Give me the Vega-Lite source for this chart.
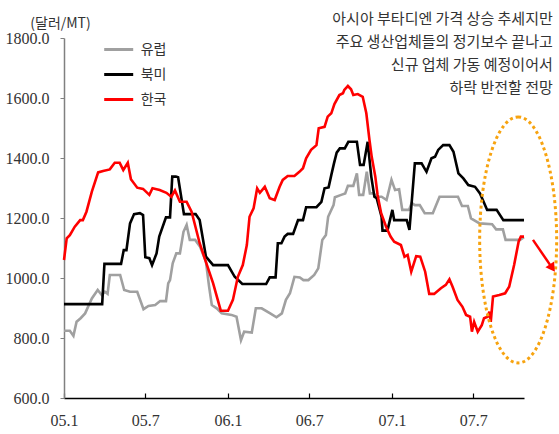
{
  "$schema": "https://vega.github.io/schema/vega-lite/v6.json",
  "width": 460,
  "height": 360,
  "autosize": {"type": "none"},
  "padding": {"left": 64, "top": 38, "right": 35, "bottom": 36},
  "background": "white",
  "config": {
    "view": {"stroke": null},
    "axis": {"labelFont": "Liberation Sans Narrow", "labelFontSize": 16, "labelColor": "#333333", "grid": false}
  },
  "datasets": {
    "prices": [
      {"date": "2005-01-01", "series": "유럽", "price": 824},
      {"date": "2005-01-14", "series": "유럽", "price": 824},
      {"date": "2005-01-22", "series": "유럽", "price": 807},
      {"date": "2005-01-29", "series": "유럽", "price": 854},
      {"date": "2005-02-07", "series": "유럽", "price": 866},
      {"date": "2005-02-17", "series": "유럽", "price": 882},
      {"date": "2005-03-04", "series": "유럽", "price": 932},
      {"date": "2005-03-17", "series": "유럽", "price": 960},
      {"date": "2005-03-26", "series": "유럽", "price": 943},
      {"date": "2005-04-02", "series": "유럽", "price": 954},
      {"date": "2005-04-08", "series": "유럽", "price": 947},
      {"date": "2005-04-13", "series": "유럽", "price": 1010},
      {"date": "2005-05-06", "series": "유럽", "price": 1010},
      {"date": "2005-05-15", "series": "유럽", "price": 960},
      {"date": "2005-05-28", "series": "유럽", "price": 954},
      {"date": "2005-06-13", "series": "유럽", "price": 954},
      {"date": "2005-06-27", "series": "유럽", "price": 896},
      {"date": "2005-07-08", "series": "유럽", "price": 907},
      {"date": "2005-07-23", "series": "유럽", "price": 910},
      {"date": "2005-08-03", "series": "유럽", "price": 923},
      {"date": "2005-08-16", "series": "유럽", "price": 923},
      {"date": "2005-08-21", "series": "유럽", "price": 982},
      {"date": "2005-08-25", "series": "유럽", "price": 993},
      {"date": "2005-08-31", "series": "유럽", "price": 1049},
      {"date": "2005-09-08", "series": "유럽", "price": 1082},
      {"date": "2005-09-16", "series": "유럽", "price": 1082},
      {"date": "2005-09-24", "series": "유럽", "price": 1154},
      {"date": "2005-10-01", "series": "유럽", "price": 1177},
      {"date": "2005-10-08", "series": "유럽", "price": 1127},
      {"date": "2005-10-20", "series": "유럽", "price": 1127},
      {"date": "2005-10-31", "series": "유럽", "price": 1104},
      {"date": "2005-11-13", "series": "유럽", "price": 1054},
      {"date": "2005-11-20", "series": "유럽", "price": 971},
      {"date": "2005-11-26", "series": "유럽", "price": 910},
      {"date": "2005-12-07", "series": "유럽", "price": 899},
      {"date": "2005-12-18", "series": "유럽", "price": 882},
      {"date": "2006-01-09", "series": "유럽", "price": 877},
      {"date": "2006-01-20", "series": "유럽", "price": 871},
      {"date": "2006-01-30", "series": "유럽", "price": 793},
      {"date": "2006-02-06", "series": "유럽", "price": 821},
      {"date": "2006-02-23", "series": "유럽", "price": 818},
      {"date": "2006-03-04", "series": "유럽", "price": 899},
      {"date": "2006-03-17", "series": "유럽", "price": 899},
      {"date": "2006-04-05", "series": "유럽", "price": 882},
      {"date": "2006-04-19", "series": "유럽", "price": 869},
      {"date": "2006-05-01", "series": "유럽", "price": 882},
      {"date": "2006-05-10", "series": "유럽", "price": 927},
      {"date": "2006-05-19", "series": "유럽", "price": 949},
      {"date": "2006-05-29", "series": "유럽", "price": 1004},
      {"date": "2006-06-10", "series": "유럽", "price": 1002},
      {"date": "2006-06-18", "series": "유럽", "price": 993},
      {"date": "2006-06-29", "series": "유럽", "price": 993},
      {"date": "2006-07-12", "series": "유럽", "price": 1010},
      {"date": "2006-07-21", "series": "유럽", "price": 1032},
      {"date": "2006-07-30", "series": "유럽", "price": 1127},
      {"date": "2006-08-07", "series": "유럽", "price": 1143},
      {"date": "2006-08-12", "series": "유럽", "price": 1204},
      {"date": "2006-08-24", "series": "유럽", "price": 1243},
      {"date": "2006-08-27", "series": "유럽", "price": 1269},
      {"date": "2006-09-10", "series": "유럽", "price": 1277},
      {"date": "2006-09-19", "series": "유럽", "price": 1282},
      {"date": "2006-09-25", "series": "유럽", "price": 1307},
      {"date": "2006-10-07", "series": "유럽", "price": 1307},
      {"date": "2006-10-15", "series": "유럽", "price": 1349},
      {"date": "2006-10-20", "series": "유럽", "price": 1277},
      {"date": "2006-10-29", "series": "유럽", "price": 1277},
      {"date": "2006-11-06", "series": "유럽", "price": 1354},
      {"date": "2006-11-13", "series": "유럽", "price": 1282},
      {"date": "2006-11-21", "series": "유럽", "price": 1282},
      {"date": "2006-11-28", "series": "유럽", "price": 1271},
      {"date": "2006-12-09", "series": "유럽", "price": 1271},
      {"date": "2006-12-20", "series": "유럽", "price": 1260},
      {"date": "2006-12-31", "series": "유럽", "price": 1327},
      {"date": "2007-01-08", "series": "유럽", "price": 1293},
      {"date": "2007-01-17", "series": "유럽", "price": 1296},
      {"date": "2007-01-24", "series": "유럽", "price": 1227},
      {"date": "2007-02-08", "series": "유럽", "price": 1227},
      {"date": "2007-02-14", "series": "유럽", "price": 1250},
      {"date": "2007-02-21", "series": "유럽", "price": 1243},
      {"date": "2007-03-04", "series": "유럽", "price": 1243},
      {"date": "2007-03-15", "series": "유럽", "price": 1216},
      {"date": "2007-04-02", "series": "유럽", "price": 1216},
      {"date": "2007-04-17", "series": "유럽", "price": 1271},
      {"date": "2007-05-28", "series": "유럽", "price": 1271},
      {"date": "2007-06-06", "series": "유럽", "price": 1240},
      {"date": "2007-06-19", "series": "유럽", "price": 1240},
      {"date": "2007-06-26", "series": "유럽", "price": 1199},
      {"date": "2007-07-15", "series": "유럽", "price": 1182},
      {"date": "2007-08-12", "series": "유럽", "price": 1179},
      {"date": "2007-08-21", "series": "유럽", "price": 1162},
      {"date": "2007-09-05", "series": "유럽", "price": 1162},
      {"date": "2007-09-11", "series": "유럽", "price": 1127},
      {"date": "2007-10-13", "series": "유럽", "price": 1127},
      {"date": "2007-10-22", "series": "유럽", "price": 1136},

      {"date": "2005-01-01", "series": "북미", "price": 913},
      {"date": "2005-03-27", "series": "북미", "price": 913},
      {"date": "2005-04-01", "series": "북미", "price": 1047},
      {"date": "2005-05-08", "series": "북미", "price": 1047},
      {"date": "2005-05-14", "series": "북미", "price": 1093},
      {"date": "2005-05-20", "series": "북미", "price": 1093},
      {"date": "2005-05-28", "series": "북미", "price": 1182},
      {"date": "2005-06-06", "series": "북미", "price": 1213},
      {"date": "2005-06-19", "series": "북미", "price": 1216},
      {"date": "2005-06-26", "series": "북미", "price": 1210},
      {"date": "2005-07-01", "series": "북미", "price": 1069},
      {"date": "2005-07-10", "series": "북미", "price": 1066},
      {"date": "2005-07-16", "series": "북미", "price": 1043},
      {"date": "2005-07-26", "series": "북미", "price": 1082},
      {"date": "2005-08-01", "series": "북미", "price": 1138},
      {"date": "2005-08-16", "series": "북미", "price": 1202},
      {"date": "2005-08-25", "series": "북미", "price": 1202},
      {"date": "2005-08-30", "series": "북미", "price": 1338},
      {"date": "2005-09-07", "series": "북미", "price": 1338},
      {"date": "2005-09-12", "series": "북미", "price": 1336},
      {"date": "2005-09-25", "series": "북미", "price": 1213},
      {"date": "2005-10-21", "series": "북미", "price": 1213},
      {"date": "2005-10-30", "series": "북미", "price": 1193},
      {"date": "2005-11-13", "series": "북미", "price": 1071},
      {"date": "2005-11-29", "series": "북미", "price": 1043},
      {"date": "2006-01-01", "series": "북미", "price": 1043},
      {"date": "2006-01-16", "series": "북미", "price": 1004},
      {"date": "2006-02-02", "series": "북미", "price": 980},
      {"date": "2006-03-27", "series": "북미", "price": 980},
      {"date": "2006-04-04", "series": "북미", "price": 1002},
      {"date": "2006-04-17", "series": "북미", "price": 1002},
      {"date": "2006-04-22", "series": "북미", "price": 1116},
      {"date": "2006-04-30", "series": "북미", "price": 1116},
      {"date": "2006-05-07", "series": "북미", "price": 1138},
      {"date": "2006-05-14", "series": "북미", "price": 1147},
      {"date": "2006-05-26", "series": "북미", "price": 1147},
      {"date": "2006-06-06", "series": "북미", "price": 1193},
      {"date": "2006-06-17", "series": "북미", "price": 1193},
      {"date": "2006-06-24", "series": "북미", "price": 1236},
      {"date": "2006-07-17", "series": "북미", "price": 1236},
      {"date": "2006-07-28", "series": "북미", "price": 1254},
      {"date": "2006-08-04", "series": "북미", "price": 1299},
      {"date": "2006-08-13", "series": "북미", "price": 1302},
      {"date": "2006-08-19", "series": "북미", "price": 1343},
      {"date": "2006-08-25", "series": "북미", "price": 1382},
      {"date": "2006-08-31", "series": "북미", "price": 1418},
      {"date": "2006-09-07", "series": "북미", "price": 1432},
      {"date": "2006-09-18", "series": "북미", "price": 1432},
      {"date": "2006-09-26", "series": "북미", "price": 1454},
      {"date": "2006-10-15", "series": "북미", "price": 1454},
      {"date": "2006-10-22", "series": "북미", "price": 1377},
      {"date": "2006-10-30", "series": "북미", "price": 1377},
      {"date": "2006-11-08", "series": "북미", "price": 1454},
      {"date": "2006-11-16", "series": "북미", "price": 1338},
      {"date": "2006-11-23", "series": "북미", "price": 1271},
      {"date": "2006-11-28", "series": "북미", "price": 1266},
      {"date": "2006-12-09", "series": "북미", "price": 1204},
      {"date": "2006-12-11", "series": "북미", "price": 1158},
      {"date": "2006-12-22", "series": "북미", "price": 1158},
      {"date": "2007-01-02", "series": "북미", "price": 1227},
      {"date": "2007-01-06", "series": "북미", "price": 1193},
      {"date": "2007-02-03", "series": "북미", "price": 1193},
      {"date": "2007-02-09", "series": "북미", "price": 1160},
      {"date": "2007-02-21", "series": "북미", "price": 1382},
      {"date": "2007-03-08", "series": "북미", "price": 1382},
      {"date": "2007-03-19", "series": "북미", "price": 1354},
      {"date": "2007-03-30", "series": "북미", "price": 1399},
      {"date": "2007-04-07", "series": "북미", "price": 1404},
      {"date": "2007-04-14", "series": "북미", "price": 1427},
      {"date": "2007-04-25", "series": "북미", "price": 1443},
      {"date": "2007-05-09", "series": "북미", "price": 1443},
      {"date": "2007-05-18", "series": "북미", "price": 1421},
      {"date": "2007-05-29", "series": "북미", "price": 1349},
      {"date": "2007-06-09", "series": "북미", "price": 1332},
      {"date": "2007-06-20", "series": "북미", "price": 1310},
      {"date": "2007-07-05", "series": "북미", "price": 1304},
      {"date": "2007-07-16", "series": "북미", "price": 1282},
      {"date": "2007-08-01", "series": "북미", "price": 1227},
      {"date": "2007-08-22", "series": "북미", "price": 1227},
      {"date": "2007-09-06", "series": "북미", "price": 1193},
      {"date": "2007-10-22", "series": "북미", "price": 1193},

      {"date": "2005-01-01", "series": "한국", "price": 1060},
      {"date": "2005-01-07", "series": "한국", "price": 1132},
      {"date": "2005-01-14", "series": "한국", "price": 1143},
      {"date": "2005-01-25", "series": "한국", "price": 1171},
      {"date": "2005-02-06", "series": "한국", "price": 1193},
      {"date": "2005-02-12", "series": "한국", "price": 1193},
      {"date": "2005-02-20", "series": "한국", "price": 1221},
      {"date": "2005-03-04", "series": "한국", "price": 1288},
      {"date": "2005-03-18", "series": "한국", "price": 1352},
      {"date": "2005-03-29", "series": "한국", "price": 1357},
      {"date": "2005-04-13", "series": "한국", "price": 1362},
      {"date": "2005-04-24", "series": "한국", "price": 1384},
      {"date": "2005-05-05", "series": "한국", "price": 1384},
      {"date": "2005-05-13", "series": "한국", "price": 1360},
      {"date": "2005-05-23", "series": "한국", "price": 1384},
      {"date": "2005-05-30", "series": "한국", "price": 1329},
      {"date": "2005-06-13", "series": "한국", "price": 1301},
      {"date": "2005-06-26", "series": "한국", "price": 1297},
      {"date": "2005-07-10", "series": "한국", "price": 1277},
      {"date": "2005-07-17", "series": "한국", "price": 1299},
      {"date": "2005-08-02", "series": "한국", "price": 1293},
      {"date": "2005-08-17", "series": "한국", "price": 1284},
      {"date": "2005-08-28", "series": "한국", "price": 1271},
      {"date": "2005-09-05", "series": "한국", "price": 1292},
      {"date": "2005-09-16", "series": "한국", "price": 1254},
      {"date": "2005-10-01", "series": "한국", "price": 1254},
      {"date": "2005-10-12", "series": "한국", "price": 1221},
      {"date": "2005-10-30", "series": "한국", "price": 1116},
      {"date": "2005-11-14", "series": "한국", "price": 1049},
      {"date": "2005-11-29", "series": "한국", "price": 982},
      {"date": "2005-12-16", "series": "한국", "price": 891},
      {"date": "2006-01-01", "series": "한국", "price": 891},
      {"date": "2006-01-12", "series": "한국", "price": 927},
      {"date": "2006-01-23", "series": "한국", "price": 1004},
      {"date": "2006-02-03", "series": "한국", "price": 1043},
      {"date": "2006-02-12", "series": "한국", "price": 1110},
      {"date": "2006-02-18", "series": "한국", "price": 1204},
      {"date": "2006-02-27", "series": "한국", "price": 1232},
      {"date": "2006-03-07", "series": "한국", "price": 1299},
      {"date": "2006-03-13", "series": "한국", "price": 1284},
      {"date": "2006-03-24", "series": "한국", "price": 1304},
      {"date": "2006-04-04", "series": "한국", "price": 1266},
      {"date": "2006-04-15", "series": "한국", "price": 1260},
      {"date": "2006-04-26", "series": "한국", "price": 1304},
      {"date": "2006-05-03", "series": "한국", "price": 1327},
      {"date": "2006-05-14", "series": "한국", "price": 1340},
      {"date": "2006-05-29", "series": "한국", "price": 1340},
      {"date": "2006-06-09", "series": "한국", "price": 1354},
      {"date": "2006-06-17", "series": "한국", "price": 1366},
      {"date": "2006-06-24", "series": "한국", "price": 1399},
      {"date": "2006-07-05", "series": "한국", "price": 1427},
      {"date": "2006-07-17", "series": "한국", "price": 1443},
      {"date": "2006-07-22", "series": "한국", "price": 1499},
      {"date": "2006-08-04", "series": "한국", "price": 1504},
      {"date": "2006-08-11", "series": "한국", "price": 1538},
      {"date": "2006-08-19", "series": "한국", "price": 1549},
      {"date": "2006-08-26", "series": "한국", "price": 1580},
      {"date": "2006-09-06", "series": "한국", "price": 1610},
      {"date": "2006-09-14", "series": "한국", "price": 1616},
      {"date": "2006-09-17", "series": "한국", "price": 1627},
      {"date": "2006-09-25", "series": "한국", "price": 1640},
      {"date": "2006-10-02", "series": "한국", "price": 1629},
      {"date": "2006-10-07", "series": "한국", "price": 1610},
      {"date": "2006-10-17", "series": "한국", "price": 1613},
      {"date": "2006-10-28", "series": "한국", "price": 1604},
      {"date": "2006-11-05", "series": "한국", "price": 1549},
      {"date": "2006-11-12", "series": "한국", "price": 1460},
      {"date": "2006-11-17", "series": "한국", "price": 1404},
      {"date": "2006-11-25", "series": "한국", "price": 1338},
      {"date": "2006-11-30", "series": "한국", "price": 1277},
      {"date": "2006-12-08", "series": "한국", "price": 1216},
      {"date": "2006-12-19", "series": "한국", "price": 1171},
      {"date": "2006-12-29", "series": "한국", "price": 1138},
      {"date": "2007-01-06", "series": "한국", "price": 1121},
      {"date": "2007-01-21", "series": "한국", "price": 1110},
      {"date": "2007-01-29", "series": "한국", "price": 1071},
      {"date": "2007-02-05", "series": "한국", "price": 1077},
      {"date": "2007-02-13", "series": "한국", "price": 1021},
      {"date": "2007-02-24", "series": "한국", "price": 1073},
      {"date": "2007-03-05", "series": "한국", "price": 1071},
      {"date": "2007-03-16", "series": "한국", "price": 1021},
      {"date": "2007-03-25", "series": "한국", "price": 947},
      {"date": "2007-04-05", "series": "한국", "price": 947},
      {"date": "2007-04-20", "series": "한국", "price": 966},
      {"date": "2007-05-01", "series": "한국", "price": 977},
      {"date": "2007-05-09", "series": "한국", "price": 996},
      {"date": "2007-05-16", "series": "한국", "price": 971},
      {"date": "2007-05-27", "series": "한국", "price": 927},
      {"date": "2007-06-07", "series": "한국", "price": 904},
      {"date": "2007-06-15", "series": "한국", "price": 877},
      {"date": "2007-06-24", "series": "한국", "price": 871},
      {"date": "2007-06-28", "series": "한국", "price": 821},
      {"date": "2007-07-03", "series": "한국", "price": 854},
      {"date": "2007-07-11", "series": "한국", "price": 821},
      {"date": "2007-07-20", "series": "한국", "price": 843},
      {"date": "2007-07-25", "series": "한국", "price": 866},
      {"date": "2007-08-02", "series": "한국", "price": 871},
      {"date": "2007-08-06", "series": "한국", "price": 888},
      {"date": "2007-08-09", "series": "한국", "price": 854},
      {"date": "2007-08-14", "series": "한국", "price": 938},
      {"date": "2007-08-28", "series": "한국", "price": 943},
      {"date": "2007-09-10", "series": "한국", "price": 949},
      {"date": "2007-09-19", "series": "한국", "price": 971},
      {"date": "2007-09-30", "series": "한국", "price": 1043},
      {"date": "2007-10-10", "series": "한국", "price": 1121},
      {"date": "2007-10-15", "series": "한국", "price": 1138},
      {"date": "2007-10-22", "series": "한국", "price": 1138}
    ]
  },
  "layer": [
    {
      "data": {"name": "prices"},
      "mark": {"type": "line", "strokeWidth": 2.6, "clip": false},
      "encoding": {
        "x": {
          "field": "date",
          "type": "temporal",
          "scale": {"type": "utc", "domain": [{"year": 2005, "month": 1, "date": 1, "utc": true}, {"year": 2007, "month": 10, "date": 22, "utc": true}]},
          "axis": {
            "title": null,
            "values": [
              {"year": 2005, "month": 1, "date": 1, "utc": true},
              {"year": 2005, "month": 7, "date": 1, "utc": true},
              {"year": 2006, "month": 1, "date": 1, "utc": true},
              {"year": 2006, "month": 7, "date": 1, "utc": true},
              {"year": 2007, "month": 1, "date": 1, "utc": true},
              {"year": 2007, "month": 7, "date": 1, "utc": true}
            ],
            "labelExpr": "utcFormat(datum.value, '%y.%-m')",
            "labelOverlap": false,
            "labelFlush": false,
            "domainColor": "#000000",
            "domainWidth": 1.5,
            "tickColor": "#000000",
            "tickWidth": 1.2,
            "tickSize": -5,
            "labelPadding": 19
          }
        },
        "y": {
          "field": "price",
          "type": "quantitative",
          "scale": {"domain": [600, 1800], "nice": false, "zero": false},
          "axis": {
            "values": [600, 800, 1000, 1200, 1400, 1600, 1800],
            "format": ".1f",
            "title": "(달러/MT)",
            "titleAngle": 0,
            "titleX": -4,
            "titleY": -15,
            "titleAlign": "center",
            "titleBaseline": "middle",
            "titleFont": "Noto Sans CJK KR",
            "titleFontSize": 14,
            "titleFontWeight": "normal",
            "titleColor": "#333333",
            "domainColor": "#808080",
            "domainWidth": 1.5,
            "tickColor": "#808080",
            "tickSize": 4,
            "labelPadding": 11
          }
        },
        "color": {
          "field": "series",
          "type": "nominal",
          "scale": {"domain": ["유럽", "북미", "한국"], "range": ["#A0A0A0", "#000000", "#FF0000"]},
          "legend": {
            "title": null,
            "orient": "none",
            "legendX": 38.7,
            "legendY": -1,
            "padding": 0,
            "symbolType": "stroke",
            "symbolSize": 841,
            "symbolStrokeWidth": 3,
            "labelFont": "Noto Sans CJK KR",
            "labelFontSize": 14,
            "labelColor": "#333333",
            "labelOffset": 6,
            "rowPadding": 0,
            "clipHeight": 25
          }
        }
      }
    },
    {
      "data": {"values": [{}]},
      "mark": {
        "type": "point",
        "shape": "M0,-1C0.173,-1 0.313,-0.552 0.313,0C0.313,0.552 0.173,1 0,1C-0.173,1 -0.313,0.552 -0.313,0C-0.313,-0.552 -0.173,-1 0,-1Z",
        "size": 60516,
        "filled": false,
        "stroke": "#F7A30F",
        "strokeWidth": 3,
        "strokeDash": [3, 3],
        "opacity": 1,
        "clip": false
      },
      "encoding": {
        "x": {"datum": {"year": 2007, "month": 10, "date": 9, "utc": true}, "type": "temporal"},
        "y": {"datum": 1127, "type": "quantitative"}
      }
    },
    {
      "data": {"values": [{}]},
      "mark": {"type": "rule", "color": "#FF0000", "strokeWidth": 2.5, "clip": false},
      "encoding": {
        "x": {"datum": {"year": 2007, "month": 11, "date": 11, "utc": true}, "type": "temporal"},
        "y": {"datum": 1127, "type": "quantitative"},
        "x2": {"datum": {"year": 2007, "month": 12, "date": 24, "utc": true}},
        "y2": {"datum": 1033}
      }
    },
    {
      "data": {"values": [{}]},
      "mark": {"type": "point", "shape": "triangle-up", "angle": 145.6, "size": 110, "filled": true, "color": "#FF0000", "opacity": 1, "clip": false},
      "encoding": {
        "x": {"datum": {"year": 2007, "month": 12, "date": 24, "utc": true}, "type": "temporal"},
        "y": {"datum": 1033, "type": "quantitative"}
      }
    },
    {
      "data": {"values": [{}]},
      "mark": {
        "type": "text",
        "text": ["아시아 부타디엔 가격 상승 추세지만", "주요 생산업체들의 정기보수 끝나고", "신규 업체 가동 예정이어서", "하락 반전할 전망"],
        "align": "right",
        "baseline": "top",
        "lineHeight": 23,
        "font": "Noto Sans CJK KR",
        "fontSize": 15,
        "color": "#333333",
        "clip": false
      },
      "encoding": {
        "x": {"datum": {"year": 2007, "month": 12, "date": 25, "utc": true}, "type": "temporal"},
        "y": {"datum": 1886, "type": "quantitative"}
      }
    }
  ]
}
